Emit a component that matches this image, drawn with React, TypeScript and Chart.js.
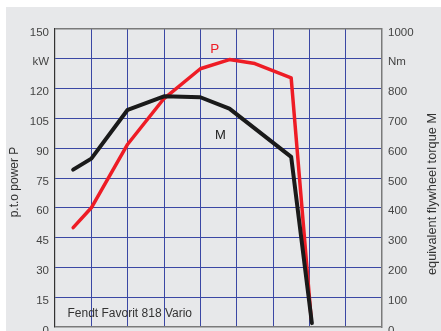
import React, { useEffect, useRef } from "react";
import { Chart, registerables } from "chart.js";

Chart.register(...registerables);

// Engine speed positions (grid columns 0..9)
const powerSpeed = [0.5, 1, 2, 3, 4, 4.8, 5.5, 6.5, 7.05];
const powerKW = [50, 60, 92, 115, 130, 134.6, 132.6, 125.4, 4.5];
const torqueSpeed = [0.5, 1, 2, 3, 4, 4.8, 6.5, 7.07];
const torqueNm = [528, 565, 729, 774, 771, 733, 571, 13];

const leftTicks = [0, 15, 30, 45, 60, 75, 90, 105, 120, 135, 150];
const rightTicks = [0, 100, 200, 300, 400, 500, 600, 700, 800, 900, 1000];
const leftUnitAt = 135;
const rightUnitAt = 900;

const FONT = "'Liberation Sans', Arial, Helvetica, sans-serif";
const GRID = "#3a47a4";
const FRAME = "#7a7a7a";

const panelPlugin = {
  id: "panel",
  beforeDraw(chart: any) {
    const { ctx, width, height } = chart;
    ctx.save();
    ctx.fillStyle = "#ffffff";
    ctx.fillRect(0, 0, width, height);
    ctx.fillStyle = "#e7e8ea";
    ctx.fillRect(6, 7, width - 6, height - 7);
    ctx.restore();
  },
  afterDraw(chart: any) {
    const { ctx, chartArea } = chart;
    ctx.save();
    ctx.textAlign = "center";
    ctx.textBaseline = "middle";
    ctx.fillStyle = "#333";
    ctx.font = `12px ${FONT}`;
    ctx.save();
    ctx.translate(15, 182);
    ctx.rotate(-Math.PI / 2);
    ctx.fillText("p.t.o power P", 0, 0);
    ctx.restore();
    ctx.font = `12.8px ${FONT}`;
    ctx.save();
    ctx.translate(432, 194);
    ctx.rotate(-Math.PI / 2);
    ctx.fillText("equivalent flywheel torque M", 0, 0);
    ctx.restore();
    const xs = chart.scales.x;
    const yl = chart.scales.y;
    ctx.font = `13.5px ${FONT}`;
    ctx.fillStyle = "#ee1c25";
    ctx.fillText("P", xs.getPixelForValue(4.4), yl.getPixelForValue(140));
    ctx.fillStyle = "#222";
    ctx.font = `13px ${FONT}`;
    ctx.fillText("M", xs.getPixelForValue(4.55), yl.getPixelForValue(96.5));
    ctx.fillStyle = "#333";
    ctx.font = `12px ${FONT}`;
    ctx.textAlign = "left";
    ctx.fillText("Fendt Favorit 818 Vario", chartArea.left + 12.5, yl.getPixelForValue(6.5));
    ctx.restore();
  },
};

export default function App() {
  const ref = useRef<HTMLCanvasElement | null>(null);
  useEffect(() => {
    if (!ref.current) return;
    const chart = new Chart(ref.current, {
      type: "line",
      data: {
        datasets: [
          {
            label: "M",
            data: torqueSpeed.map((x, i) => ({ x, y: torqueNm[i] })),
            borderColor: "#1a1a1a",
            borderWidth: 4,
            pointRadius: 0,
            yAxisID: "y1",
            tension: 0,
            borderJoinStyle: "round",
            borderCapStyle: "round",
          },
          {
            label: "P",
            data: powerSpeed.map((x, i) => ({ x, y: powerKW[i] })),
            borderColor: "#ee1c25",
            borderWidth: 3.5,
            pointRadius: 0,
            yAxisID: "y",
            tension: 0,
            borderJoinStyle: "round",
            borderCapStyle: "round",
          },
        ],
      },
      options: {
        responsive: false,
        animation: false,
        events: [],
        layout: { padding: { left: 0, right: 0, top: 29, bottom: 4 } },
        plugins: { legend: { display: false }, tooltip: { enabled: false }, title: { display: false } },
        scales: {
          x: {
            type: "linear",
            min: 0,
            max: 9,
            ticks: { display: false, stepSize: 1 },
            grid: {
              color: (c: any) => (c.tick && (c.tick.value === 0 || c.tick.value === 9) ? "rgba(0,0,0,0)" : GRID),
              lineWidth: 1,
              drawTicks: false,
            },
            border: { display: false },
            afterFit: (s: any) => {
              s.height = 0;
              s.paddingLeft = 0;
              s.paddingRight = 0;
            },
          },
          y: {
            position: "left",
            min: 0,
            max: 150,
            afterBuildTicks: (s: any) => {
              s.ticks = leftTicks.map((v) => ({ value: v }));
            },
            ticks: {
              color: "#444",
              font: { family: FONT, size: 11.5 },
              padding: 6,
              labelOffset: 3.5,
              callback: (v: any) => (v === leftUnitAt ? "kW" : String(v)),
            },
            grid: {
              color: (c: any) => (c.tick && (c.tick.value === 0 || c.tick.value === 150) ? FRAME : GRID),
              lineWidth: (c: any) => (c.tick && (c.tick.value === 0 || c.tick.value === 150) ? 1.5 : 1),
              drawTicks: false,
            },
            border: { display: true, color: "#333", width: 1.2 },
            afterFit: (s: any) => {
              s.width = 55;
              s.paddingTop = 0;
              s.paddingBottom = 0;
            },
          },
          y1: {
            position: "right",
            min: 0,
            max: 1000,
            afterBuildTicks: (s: any) => {
              s.ticks = rightTicks.map((v) => ({ value: v }));
            },
            ticks: {
              color: "#444",
              font: { family: FONT, size: 11.5 },
              padding: 6,
              labelOffset: 3.5,
              callback: (v: any) => (v === rightUnitAt ? "Nm" : String(v)),
            },
            grid: { drawOnChartArea: false, drawTicks: false },
            border: { display: true, color: FRAME, width: 1.5 },
            afterFit: (s: any) => {
              s.width = 59;
              s.paddingTop = 0;
              s.paddingBottom = 0;
            },
          },
        },
      },
      plugins: [panelPlugin],
    } as any);
    return () => chart.destroy();
  }, []);
  return (
    <div style={{ position: "absolute", left: 0, top: 0, width: 441, height: 331 }}>
      <canvas ref={ref} width={441} height={331} style={{ display: "block" }} />
    </div>
  );
}
